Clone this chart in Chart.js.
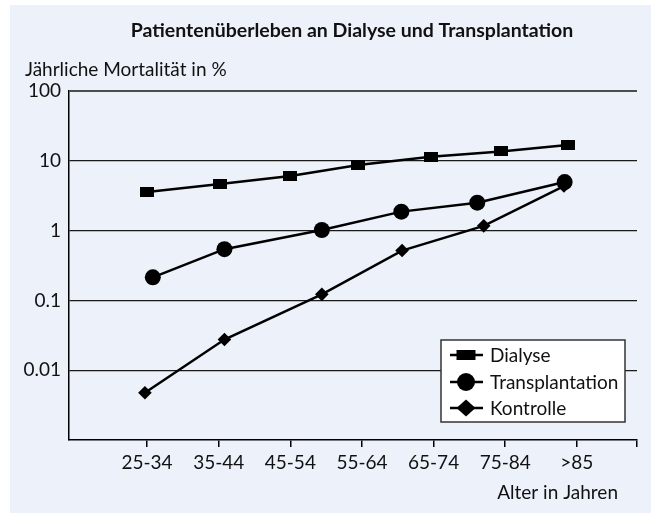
<!DOCTYPE html>
<html>
<head>
<meta charset="utf-8">
<script src="https://cdn.jsdelivr.net/npm/chart.js@4.4.1/dist/chart.umd.min.js"></script>
<style>
  html, body { margin: 0; padding: 0; background: #ffffff; }
  #wrap { width: 651px; height: 513px; position: relative; }
  canvas { display: block; }
</style>
</head>
<body>
<div id="wrap"><canvas id="c" width="651" height="513"></canvas></div>
<script>
// ---- data ----
const chartTitle = 'Patientenüberleben an Dialyse und Transplantation';
const yTitle = 'Jährliche Mortalität in %';
const xTitle = 'Alter in Jahren';
const categories = ['25-34', '35-44', '45-54', '55-64', '65-74', '75-84', '>85'];
const yTickValues = [0.001, 0.01, 0.1, 1, 10, 100];
const yTickLabels = ['', '0.01', '0.1', '1', '10', '100'];
const seriesNames = ['Dialyse', 'Transplantation', 'Kontrolle'];

// x = position on the age axis (1 = 25-34 ... 7 = >85)
const dialyseX = [1.00, 2.02, 3.00, 3.95, 4.96, 5.94, 6.87];
const dialyseY = [3.57, 4.64, 6.04, 8.69, 11.4, 13.6, 16.9];
const transplantX = [1.08, 2.08, 3.44, 4.55, 5.61, 6.83];
const transplantY = [0.214, 0.542, 1.02, 1.87, 2.51, 4.96];
const kontrolleX = [0.97, 2.08, 3.44, 4.56, 5.70, 6.82];
const kontrolleY = [0.00475, 0.0275, 0.122, 0.518, 1.17, 4.35];

const xMin = -0.09, xMax = 7.84;

function pts(xs, ys) { return xs.map((x, i) => ({ x: x, y: ys[i] })); }

const FONT = 'Lato';
const INK = '#111111';
const FS = 19;

function rectMarker(w, h) {
  const c = document.createElement('canvas');
  c.width = w; c.height = h;
  const g = c.getContext('2d');
  g.fillStyle = '#000';
  g.fillRect(0, 0, w, h);
  return c;
}
const squareImg = rectMarker(14, 10);

const decor = {
  id: 'decor',
  beforeDraw(chart) {
    const ctx = chart.ctx;
    ctx.save();
    ctx.fillStyle = '#ffffff';
    ctx.fillRect(0, 0, chart.width, chart.height);
    ctx.fillStyle = '#ecf1fa';
    ctx.fillRect(10, 5, chart.width - 10, chart.height - 5);
    ctx.restore();
  },
  afterDraw(chart) {
    const ctx = chart.ctx;
    ctx.save();
    ctx.fillStyle = INK;
    ctx.textBaseline = 'middle';
    // main title
    ctx.font = 'bold 19.5px ' + FONT;
    ctx.textAlign = 'center';
    ctx.fillText(chartTitle, 352, 31);
    // y title
    ctx.font = FS + 'px ' + FONT;
    ctx.textAlign = 'left';
    ctx.fillText(yTitle, 25, 70);
    // x title
    ctx.textAlign = 'right';
    ctx.fillText(xTitle, 618, 493);

    // legend box
    const bx = 441, by = 340, bw = 184, bh = 82;
    ctx.fillStyle = '#ffffff';
    ctx.fillRect(bx, by, bw, bh);
    ctx.strokeStyle = '#333333';
    ctx.lineWidth = 1.5;
    ctx.strokeRect(bx, by, bw, bh);
    const rows = [355, 382, 408];
    chart.data.datasets.forEach((ds, i) => {
      const y = rows[i];
      ctx.strokeStyle = '#000';
      ctx.lineWidth = 2.5;
      ctx.beginPath();
      ctx.moveTo(450, y);
      ctx.lineTo(483, y);
      ctx.stroke();
      ctx.fillStyle = '#000';
      const cx = 466;
      ctx.beginPath();
      if (i === 0) {
        ctx.rect(cx - 9.5, y - 5, 19, 10);
      } else if (i === 1) {
        ctx.arc(cx, y, 9, 0, Math.PI * 2);
      } else {
        ctx.moveTo(cx - 9.5, y);
        ctx.lineTo(cx, y - 8.5);
        ctx.lineTo(cx + 9.5, y);
        ctx.lineTo(cx, y + 8.5);
        ctx.closePath();
      }
      ctx.fill();
      ctx.fillStyle = INK;
      ctx.font = FS + 'px ' + FONT;
      ctx.textAlign = 'left';
      ctx.fillText(ds.label, 490, y + 1);
    });
    ctx.restore();
  }
};

const common = {
  borderColor: '#000000',
  backgroundColor: '#000000',
  borderWidth: 2.5,
  pointBorderWidth: 0,
  pointBackgroundColor: '#000000',
  pointBorderColor: '#000000',
  tension: 0,
  fill: false,
  clip: false
};

new Chart(document.getElementById('c'), {
  type: 'line',
  data: {
    datasets: [
      Object.assign({}, common, { label: seriesNames[0], data: pts(dialyseX, dialyseY), pointStyle: squareImg, pointRadius: 7 }),
      Object.assign({}, common, { label: seriesNames[1], data: pts(transplantX, transplantY), pointStyle: 'circle', pointRadius: 8 }),
      Object.assign({}, common, { label: seriesNames[2], data: pts(kontrolleX, kontrolleY), pointStyle: 'rectRot', pointRadius: 6.8 })
    ]
  },
  options: {
    responsive: false,
    animation: false,
    devicePixelRatio: 1,
    layout: { padding: { left: 10, right: 14, top: 91, bottom: 0 } },
    plugins: { legend: { display: false }, title: { display: false }, tooltip: { enabled: false } },
    scales: {
      x: {
        type: 'linear',
        min: xMin,
        max: xMax,
        afterBuildTicks(scale) {
          const t = categories.map((c, i) => ({ value: i + 1 }));
          t.push({ value: xMax });
          scale.ticks = t;
        },
        afterFit(scale) { scale.height = 73; },
        ticks: {
          autoSkip: false,
          maxRotation: 0,
          padding: 4,
          color: INK,
          font: { family: FONT, size: FS },
          callback(v) {
            const i = Math.round(v) - 1;
            return (Math.abs(v - Math.round(v)) < 1e-6 && categories[i]) ? categories[i] : '';
          }
        },
        grid: { drawOnChartArea: false, drawTicks: true, tickLength: 7, color: '#000', lineWidth: 1.5 },
        border: { display: true, color: '#000', width: 1.5 }
      },
      y: {
        type: 'logarithmic',
        min: 0.001,
        max: 100,
        afterBuildTicks(scale) { scale.ticks = yTickValues.map(v => ({ value: v })); },
        afterFit(scale) { scale.width = 59; },
        ticks: {
          padding: 8,
          color: INK,
          font: { family: FONT, size: FS },
          callback(v) {
            const i = yTickValues.findIndex(t => Math.abs(t - v) / t < 1e-6);
            return i >= 0 ? yTickLabels[i] : '';
          }
        },
        grid: {
          drawTicks: false,
          color(ctx) {
            const v = ctx.tick && ctx.tick.value;
            if (v === undefined || v < 0.005) return 'rgba(0,0,0,0)';
            return v > 50 ? '#4d4d4d' : '#1a1a1a';
          },
          lineWidth(ctx) {
            const v = ctx.tick && ctx.tick.value;
            return v > 50 ? 2 : 1.3;
          }
        },
        border: { display: true, color: '#000', width: 1.5 }
      }
    }
  },
  plugins: [decor]
});
</script>
</body>
</html>
